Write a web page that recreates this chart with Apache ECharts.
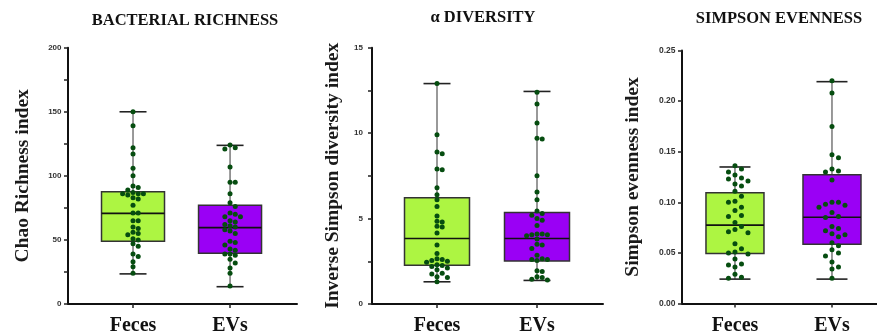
<!DOCTYPE html>
<html><head><meta charset="utf-8">
<script src="https://cdn.jsdelivr.net/npm/echarts@6/dist/echarts.min.js"></script>
<style>html,body{margin:0;padding:0;background:#fff}#c{width:877px;height:336px}</style>
</head><body><div id="c"></div>
<script>
// ---------- DATA ----------
const categories = ['Feces', 'EVs'];
const titles = ['BACTERIAL RICHNESS', 'α DIVERSITY', 'SIMPSON EVENNESS'];
const yNames = ['Chao Richness index', 'Inverse Simpson diversity index', 'Simpson evenness index'];

// Chao richness
const chaoFeces = [150, 139, 122, 117, 106, 100, 92, 91, 89, 87, 86, 86, 86, 85, 83, 82, 77, 71, 71, 65, 65, 60, 59, 56, 55, 54, 51, 50, 47, 45, 39, 37, 33, 29, 24];
const chaoEVs = [124, 122, 121, 107, 95, 95, 86, 79, 76, 71, 70, 68, 68, 65, 64, 62, 61, 60, 58, 57, 55, 49, 48, 46, 43, 42, 39, 39, 38, 35, 32, 28, 24, 14];
const chaoBoxFeces = [23.5, 49, 70.7, 87.6, 150];   // min, Q1, median, Q3, max
const chaoBoxEVs = [13.5, 39.6, 59.6, 77, 123.8];

// Inverse Simpson
const invFeces = [12.9, 9.9, 8.9, 8.8, 7.9, 7.85, 6.8, 6.4, 6.1, 5.7, 5.15, 4.85, 4.8, 4.55, 4.5, 4.15, 3.45, 2.95, 2.65, 2.6, 2.55, 2.5, 2.45, 2.3, 2.25, 2.2, 2.1, 2.0, 1.8, 1.75, 1.6, 1.55, 1.3];
const invEVs = [12.4, 11.7, 10.6, 9.7, 9.65, 7.5, 6.55, 6.1, 5.45, 5.3, 5.2, 5.0, 4.9, 4.6, 4.1, 4.1, 4.05, 4.05, 4.0, 3.8, 3.5, 3.45, 3.25, 2.85, 2.65, 2.6, 2.6, 2.55, 1.95, 1.9, 1.6, 1.55, 1.45, 1.4];
const invBoxFeces = [1.3, 2.27, 3.83, 6.22, 12.9];
const invBoxEVs = [1.38, 2.51, 3.83, 5.35, 12.44];

// Simpson evenness
const evenFeces = [0.136, 0.133, 0.130, 0.127, 0.124, 0.123, 0.121, 0.118, 0.116, 0.111, 0.106, 0.101, 0.100, 0.095, 0.092, 0.087, 0.086, 0.080, 0.076, 0.073, 0.071, 0.070, 0.059, 0.054, 0.051, 0.050, 0.049, 0.044, 0.039, 0.038, 0.036, 0.029, 0.026, 0.025];
const evenEVs = [0.220, 0.208, 0.175, 0.147, 0.144, 0.133, 0.131, 0.130, 0.122, 0.100, 0.100, 0.098, 0.097, 0.095, 0.090, 0.086, 0.085, 0.076, 0.074, 0.072, 0.069, 0.068, 0.066, 0.060, 0.057, 0.053, 0.050, 0.047, 0.041, 0.036, 0.034, 0.025];
const evenBoxFeces = [0.0241, 0.0493, 0.0774, 0.1094, 0.1349];
const evenBoxEVs = [0.0241, 0.0585, 0.0853, 0.1273, 0.2192];

const yMaxes = [200, 15, 0.25];
const yIntervals = [25, 2.5, 0.05];
const yLabelEvery = [50, 5, 0.05];

// ---------- LAYOUT / STYLE ----------
const boxColors = ['#adf542', '#9a00f5'];
const dotColor = '#064d10';
const panels = [
  {left: 68, top: 47.7, width: 229, height: 257.3, xMin: -0.67, xMax: 1.69, unit: 97, boxW: 63, capW: 27, nameGap: 35, lblMargin: 6.5, lblSize: 8, dec: 0, titleX: 185, titleY: 21, dot: 5.2},
  {left: 372, top: 47.7, width: 231, height: 257.3, xMin: -0.65, xMax: 1.66, unit: 100, boxW: 65, capW: 27, nameGap: 29, lblMargin: 9, lblSize: 8, dec: 0, titleX: 483, titleY: 17.5, dot: 5.2},
  {left: 682, top: 50.5, width: 195, height: 253, xMin: -0.546, xMax: 1.464, unit: 97, boxW: 58, capW: 31, nameGap: 39, lblMargin: 6.5, lblSize: 8.5, dec: 2, titleX: 779, titleY: 18.5, dot: 6.5}
];
const pointsSets = [[chaoFeces, chaoEVs], [invFeces, invEVs], [evenFeces, evenEVs]];
const boxSets = [[chaoBoxFeces, chaoBoxEVs], [invBoxFeces, invBoxEVs], [evenBoxFeces, evenBoxEVs]];

// simple beeswarm: horizontal offsets (in category units) so dots do not overlap
function swarm(values, yMax, plotH, unitPx, dot) {
  const placed = [];
  const order = values.map((v, i) => i).sort((a, b) => values[b] - values[a]);
  const offs = new Array(values.length).fill(0);
  order.forEach(i => {
    const py = values[i] / yMax * plotH;
    for (let k = 0; k < 40; k++) {
      const step = k === 0 ? 0 : (k % 2 ? Math.ceil(k / 2) : -Math.ceil(k / 2));
      const px = step * dot;
      const hit = placed.some(p => Math.hypot(p[0] - px, p[1] - py) < dot * 0.95);
      if (!hit) { placed.push([px, py]); offs[i] = px / unitPx; break; }
    }
  });
  return offs;
}

function boxRenderer(boxW, capW) {
  return function (params, api) {
    const x = api.value(0);
    const p = [1, 2, 3, 4, 5].map(i => api.coord([x, api.value(i)]));
    const cx = p[0][0];
    const fill = api.visual('color');
    const ln = (x1, y1, x2, y2, stroke, w) => ({type: 'line', shape: {x1, y1, x2, y2}, style: {stroke, lineWidth: w}});
    return {type: 'group', children: [
      ln(cx, p[0][1], cx, p[1][1], '#555', 1.2),
      ln(cx, p[3][1], cx, p[4][1], '#555', 1.2),
      ln(cx - capW / 2, p[0][1], cx + capW / 2, p[0][1], '#222', 1.6),
      ln(cx - capW / 2, p[4][1], cx + capW / 2, p[4][1], '#222', 1.6),
      {type: 'rect', shape: {x: cx - boxW / 2, y: p[3][1], width: boxW, height: p[1][1] - p[3][1]},
        style: {fill, stroke: '#333', lineWidth: 1.5}},
      ln(cx - boxW / 2, p[2][1], cx + boxW / 2, p[2][1], '#111', 1.6)
    ]};
  };
}

const grid = [], xAxis = [], yAxis = [], series = [], graphic = [];
panels.forEach((P, i) => {
  grid.push({left: P.left, top: P.top, width: P.width, height: P.height});
  xAxis.push({
    type: 'value', gridIndex: i, min: P.xMin, max: P.xMax,
    axisLine: {show: true, onZero: false, lineStyle: {color: '#111', width: 2}},
    axisTick: {show: true, customValues: [0, 1], length: 4, lineStyle: {color: '#222', width: 1.5}},
    axisLabel: {show: true, customValues: [0, 1], margin: 12, formatter: v => categories[Math.round(v)],
      fontFamily: '"Liberation Serif", serif', fontWeight: 'bold', fontSize: 20, color: '#111'},
    splitLine: {show: false}
  });
  const every = yLabelEvery[i];
  yAxis.push({
    type: 'value', gridIndex: i, min: 0, max: yMaxes[i], interval: yIntervals[i],
    name: yNames[i], nameLocation: 'middle', nameGap: P.nameGap,
    nameTextStyle: {fontFamily: '"Liberation Serif", serif', fontWeight: 'bold', fontSize: 19.5, color: '#1a1a1a'},
    axisLine: {show: true, onZero: false, lineStyle: {color: '#111', width: 2}},
    axisTick: {show: true, length: 4, lineStyle: {color: '#222', width: 1.5}},
    axisLabel: {margin: P.lblMargin, fontFamily: '"Liberation Sans", Arial, sans-serif', fontWeight: 'bold',
      fontSize: P.lblSize, color: '#333',
      formatter: v => {
        const r = v / every;
        if (Math.abs(r - Math.round(r)) > 1e-6) return '';
        return P.dec ? v.toFixed(P.dec) : String(Math.round(v));
      }},
    splitLine: {show: false}
  });
  series.push({
    type: 'custom', xAxisIndex: i, yAxisIndex: i, z: 2,
    renderItem: boxRenderer(P.boxW, P.capW),
    data: boxSets[i].map((b, c) => ({value: [c].concat(b), itemStyle: {color: boxColors[c]}}))
  });
  const pts = [];
  pointsSets[i].forEach((vals, c) => {
    const offs = swarm(vals, yMaxes[i], P.height, P.unit, P.dot);
    vals.forEach((v, k) => pts.push([c + offs[k], v]));
  });
  series.push({
    type: 'scatter', xAxisIndex: i, yAxisIndex: i, z: 5, symbolSize: 5,
    itemStyle: {color: dotColor, opacity: 1},
    data: pts
  });
  graphic.push({type: 'text', x: P.titleX, y: P.titleY, style: {text: titles[i],
    font: 'bold 16.5px "Liberation Serif", serif', fill: '#111', align: 'center', verticalAlign: 'middle'}});
});

const chart = echarts.init(document.getElementById('c'), null, {renderer: 'canvas'});
chart.setOption({animation: false, backgroundColor: '#fff', grid, xAxis, yAxis, series, graphic});
</script>
</body></html>
